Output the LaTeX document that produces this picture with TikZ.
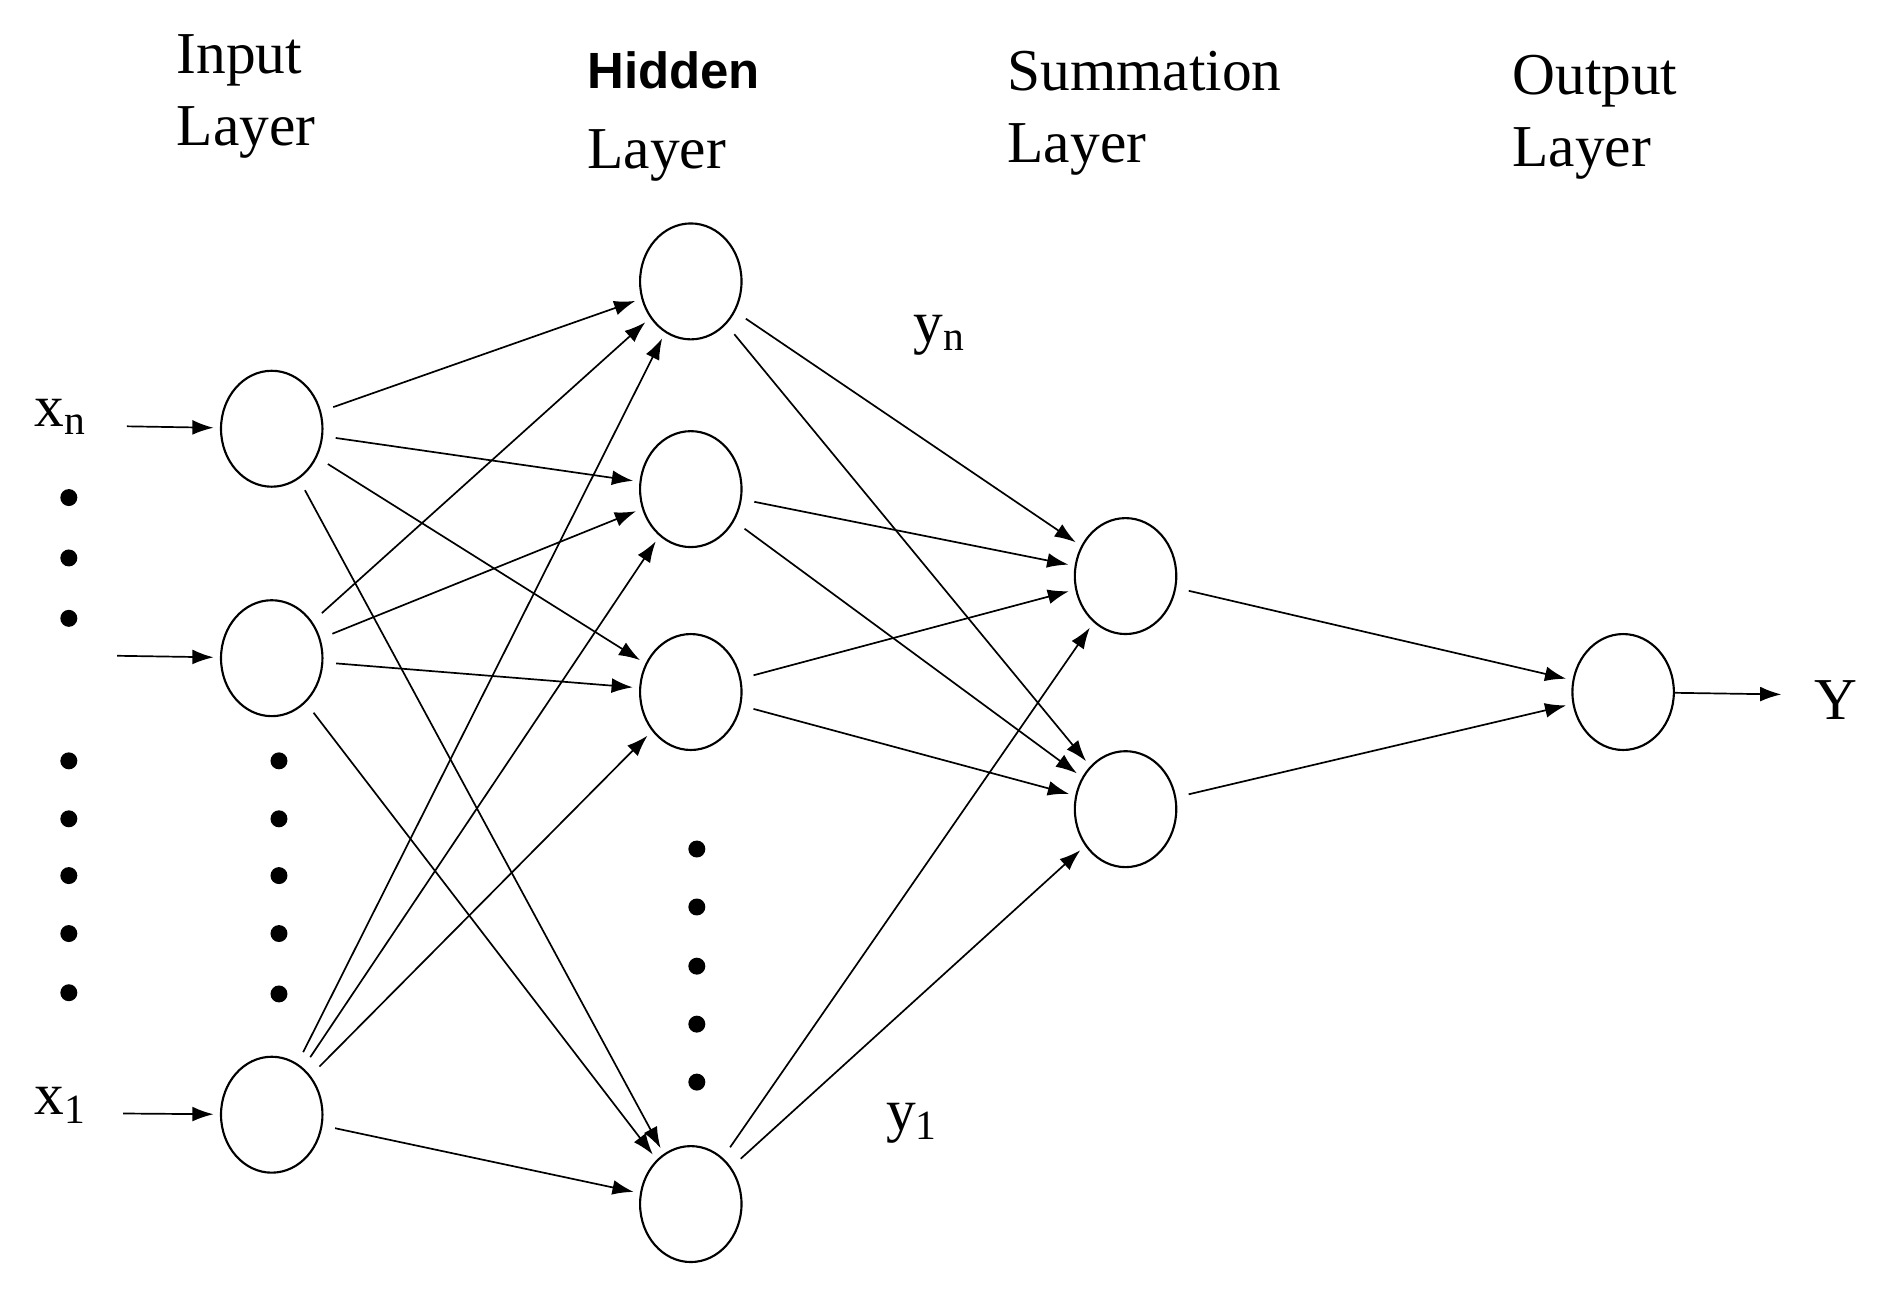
\documentclass[tikz,border=0pt]{standalone}
\usepackage{fontspec}
\setmainfont{Liberation Serif}
\newfontfamily\hsans{Liberation Sans}
\usetikzlibrary{shapes.geometric,arrows.meta}
\begin{document}
\begin{tikzpicture}[x=0.02cm,y=-0.02cm,
  neuron/.style={ellipse,draw,line width=1pt,minimum width=84*0.02cm,minimum height=96*0.02cm,inner sep=0pt},
  conn/.style={-{Latex[length=10pt,width=7pt]},line width=0.8pt,shorten <=6pt,shorten >=3pt},
  lbl/.style={font=\fontsize{28}{34}\selectfont,align=left,anchor=north west,inner sep=0pt},
  dot/.style={circle,fill,inner sep=0pt,minimum size=8pt}]
\useasboundingbox (0,0) rectangle (1560,1069);
\node[neuron] (i1) at (225,355) {};
\node[neuron] (i2) at (225,545) {};
\node[neuron] (i3) at (225,923) {};
\node[neuron] (h1) at (572,233) {};
\node[neuron] (h2) at (572,405) {};
\node[neuron] (h3) at (572,573) {};
\node[neuron] (h4) at (572,997) {};
\node[neuron] (s1) at (932,477) {};
\node[neuron] (s2) at (932,670) {};
\node[neuron] (o) at (1344,573) {};
\foreach \i in {i1,i2,i3}{\foreach \h in {h1,h2,h3,h4}{\draw[conn] (\i) -- (\h);}}
\foreach \h in {h1,h2,h3,h4}{\foreach \s in {s1,s2}{\draw[conn] (\h) -- (\s);}}
\draw[conn] (s1) -- (o);
\draw[conn] (s2) -- (o);
\coordinate (a1) at (105,353);
\coordinate (a2) at (97,543);
\coordinate (a3) at (102,922);
\coordinate (ay) at (1475,575);
\draw[conn,shorten <=0pt] (a1) -- (i1);
\draw[conn,shorten <=0pt] (a2) -- (i2);
\draw[conn,shorten <=0pt] (a3) -- (i3);
\draw[conn,shorten <=0pt,shorten >=0pt] (o) -- (ay);
\node[font=\fontsize{28}{32}\selectfont] (yl) at (1520,580) {Y};
\node[font=\fontsize{28}{32}\selectfont] (xn) at (50,345) {x\textsubscript{n}};
\node[font=\fontsize{28}{32}\selectfont] (x1) at (50,915) {x\textsubscript{1}};
\node[font=\fontsize{28}{32}\selectfont] (yn) at (778,278) {y\textsubscript{n}};
\node[font=\fontsize{28}{32}\selectfont] (y1) at (755,930) {y\textsubscript{1}};
\node[lbl] (L1) at (146,28) {Input\\Layer};
\node[lbl,font=\hsans\bfseries\fontsize{24}{38}\selectfont] (L2) at (486,42) {Hidden\\\normalfont\fontsize{28}{32}\selectfont Layer};
\node[lbl] (L3) at (834,42) {Summation\\Layer};
\node[lbl] (L4) at (1252,45) {Output\\Layer};
\foreach \y [count=\k] in {412,462,512,630,678,725,773,822}{\node[dot] (dl\k) at (57,\y) {};}
\foreach \y [count=\k] in {630,678,725,773,823}{\node[dot] (di\k) at (231,\y) {};}
\foreach \y [count=\k] in {703,751,800,848,896}{\node[dot] (dh\k) at (577,\y) {};}
\end{tikzpicture}
\end{document}
